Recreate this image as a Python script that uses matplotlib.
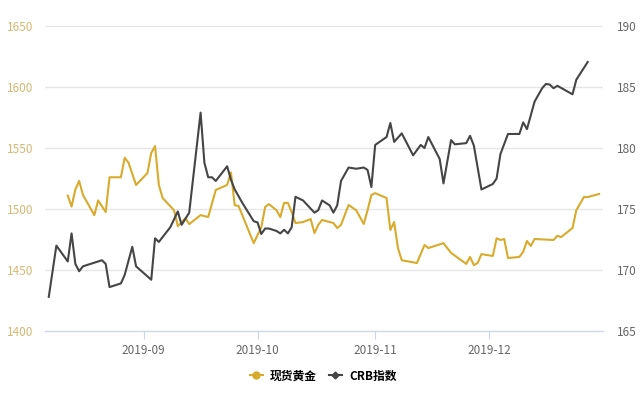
import pandas as pd
import matplotlib
matplotlib.use("Agg")
import matplotlib.pyplot as plt
import matplotlib.dates as mdates
from matplotlib.lines import Line2D

plt.rcParams['font.family'] = ['Noto Sans CJK SC', 'DejaVu Sans']

# spot gold (left axis)
gold_dates = ["2019-08-12", "2019-08-13", "2019-08-14", "2019-08-15", "2019-08-16", "2019-08-19",
              "2019-08-20", "2019-08-22", "2019-08-23", "2019-08-26", "2019-08-27", "2019-08-28",
              "2019-08-30", "2019-09-02", "2019-09-03", "2019-09-04", "2019-09-05", "2019-09-06",
              "2019-09-09", "2019-09-10", "2019-09-11", "2019-09-12", "2019-09-13", "2019-09-16",
              "2019-09-18", "2019-09-20", "2019-09-23", "2019-09-24", "2019-09-25", "2019-09-26",
              "2019-09-30", "2019-10-02", "2019-10-03", "2019-10-04", "2019-10-06", "2019-10-07",
              "2019-10-08", "2019-10-09", "2019-10-10", "2019-10-11", "2019-10-13", "2019-10-15",
              "2019-10-16", "2019-10-17", "2019-10-18", "2019-10-21", "2019-10-22", "2019-10-23",
              "2019-10-25", "2019-10-27", "2019-10-29", "2019-10-30", "2019-10-31", "2019-11-01",
              "2019-11-04", "2019-11-05", "2019-11-06", "2019-11-07", "2019-11-08", "2019-11-12",
              "2019-11-14", "2019-11-15", "2019-11-19", "2019-11-21", "2019-11-25", "2019-11-26",
              "2019-11-27", "2019-11-28", "2019-11-29", "2019-12-02", "2019-12-03", "2019-12-04",
              "2019-12-05", "2019-12-06", "2019-12-09", "2019-12-10", "2019-12-11", "2019-12-12",
              "2019-12-13", "2019-12-18", "2019-12-19", "2019-12-20", "2019-12-23", "2019-12-24",
              "2019-12-26", "2019-12-27", "2019-12-30"]
gold = [1511, 1502, 1516, 1523, 1511.5, 1495,
        1507, 1497.5, 1526, 1526, 1542, 1538,
        1519.7, 1529.5, 1546, 1551.6, 1519.7, 1509,
        1499, 1486, 1489, 1492.6, 1487.6, 1495,
        1493.4, 1515.6, 1519.7, 1530, 1503, 1502.5,
        1472, 1485, 1501.6, 1504, 1499, 1493.4,
        1505, 1505, 1497.5, 1488.5, 1489.3, 1491.8,
        1480.3, 1487, 1491, 1488.5, 1484.4, 1487,
        1503.3, 1499, 1487.7, 1499, 1511.5, 1513,
        1509, 1482.8, 1489.3, 1468, 1458, 1455.7,
        1470.5, 1468, 1472, 1464, 1455, 1460.7,
        1454, 1455.7, 1463, 1461.5, 1476, 1474.6,
        1475.4, 1459.8, 1460.7, 1464.8, 1473.8, 1469.7,
        1475.4, 1474.6, 1478, 1477, 1484.4, 1499,
        1509.8, 1509.8, 1512.3]

# CRB index (right axis)
crb_dates = ["2019-08-07", "2019-08-09", "2019-08-12", "2019-08-13", "2019-08-14", "2019-08-15",
             "2019-08-16", "2019-08-21", "2019-08-22", "2019-08-23", "2019-08-26", "2019-08-27",
             "2019-08-29", "2019-08-30", "2019-09-03", "2019-09-04", "2019-09-05", "2019-09-08",
             "2019-09-10", "2019-09-11", "2019-09-13", "2019-09-16", "2019-09-17", "2019-09-18",
             "2019-09-19", "2019-09-20", "2019-09-23", "2019-09-24", "2019-09-25", "2019-09-27",
             "2019-09-30", "2019-10-01", "2019-10-02", "2019-10-03", "2019-10-04", "2019-10-06",
             "2019-10-07", "2019-10-08", "2019-10-09", "2019-10-10", "2019-10-11", "2019-10-13",
             "2019-10-16", "2019-10-17", "2019-10-18", "2019-10-20", "2019-10-21", "2019-10-22",
             "2019-10-23", "2019-10-25", "2019-10-27", "2019-10-29", "2019-10-30", "2019-10-31",
             "2019-11-01", "2019-11-04", "2019-11-05", "2019-11-06", "2019-11-08", "2019-11-11",
             "2019-11-13", "2019-11-14", "2019-11-15", "2019-11-18", "2019-11-19", "2019-11-21",
             "2019-11-22", "2019-11-25", "2019-11-26", "2019-11-27", "2019-11-29", "2019-12-02",
             "2019-12-03", "2019-12-04", "2019-12-06", "2019-12-09", "2019-12-10", "2019-12-11",
             "2019-12-13", "2019-12-15", "2019-12-16", "2019-12-17", "2019-12-18", "2019-12-19",
             "2019-12-23", "2019-12-24", "2019-12-27"]
crb = [167.8, 172.0, 170.7, 173.0, 170.5, 169.9,
       170.3, 170.8, 170.5, 168.6, 168.9, 169.6,
       171.9, 170.3, 169.2, 172.6, 172.3, 173.5,
       174.8, 173.7, 174.7, 182.9, 178.8, 177.6,
       177.6, 177.3, 178.5, 177.4, 176.6, 175.5,
       174.0, 173.9, 172.95, 173.4, 173.4, 173.2,
       173.0, 173.3, 173.0, 173.5, 176.0, 175.7,
       174.7, 174.9, 175.7, 175.3, 174.7, 175.3,
       177.3, 178.4, 178.3, 178.4, 178.2, 176.8,
       180.25, 180.9, 182.05, 180.5, 181.2, 179.4,
       180.25, 180.0, 180.9, 179.1, 177.1, 180.65,
       180.3, 180.4, 181.0, 180.2, 176.6, 177.05,
       177.5, 179.5, 181.15, 181.15, 182.1, 181.55,
       183.8, 184.9, 185.25, 185.2, 184.9, 185.1,
       184.4, 185.6, 187.05]

gold_color = "#d8ab2c"
crb_color = "#454545"

fig = plt.figure(figsize=(6.4, 4.0), dpi=100)
ax = fig.add_axes([0.0703, 0.1725, 0.8717, 0.7625])
ax2 = ax.twinx()

ax.plot(pd.to_datetime(gold_dates), gold, color=gold_color, lw=1.5, zorder=3)
ax2.plot(pd.to_datetime(crb_dates), crb, color=crb_color, lw=1.5, zorder=3)

ax.set_xlim(pd.Timestamp("2019-08-06"), pd.Timestamp("2019-12-31"))
ax.set_ylim(1400, 1650)
ax.set_yticks([1400, 1450, 1500, 1550, 1600, 1650])
ax2.set_ylim(165, 190)
ax2.set_yticks([165, 170, 175, 180, 185, 190])

ax.xaxis.set_major_locator(mdates.MonthLocator())
ax.xaxis.set_major_formatter(mdates.DateFormatter("%Y-%m"))

ax.grid(axis="y", color="#e6e6e6", lw=1)
ax.set_axisbelow(True)
for a in (ax, ax2):
    for s in ("top", "left", "right"):
        a.spines[s].set_visible(False)
    a.spines["bottom"].set_color("#ccd6eb")

ax.tick_params(axis="y", length=0, pad=8.5, labelsize=8.5, labelcolor="#d6b872")
ax2.tick_params(axis="y", length=0, pad=10, labelsize=8.5, labelcolor="#666666")
ax.tick_params(axis="x", length=6, color="#ccd6eb", pad=3, labelsize=8.5, labelcolor="#666666")

handles = [Line2D([], [], color=gold_color, lw=1.5, marker="o", markersize=5),
           Line2D([], [], color=crb_color, lw=1.5, marker="D", markersize=3.5)]
fig.legend(handles, ["现货黄金", "CRB指数"], loc="center", bbox_to_anchor=(0.505, 0.06),
           ncol=2, frameon=False, handlelength=1.1, handletextpad=0.6, columnspacing=1.0,
           prop={"weight": "bold", "size": 8.5})

fig.savefig("out.png", dpi=100)
